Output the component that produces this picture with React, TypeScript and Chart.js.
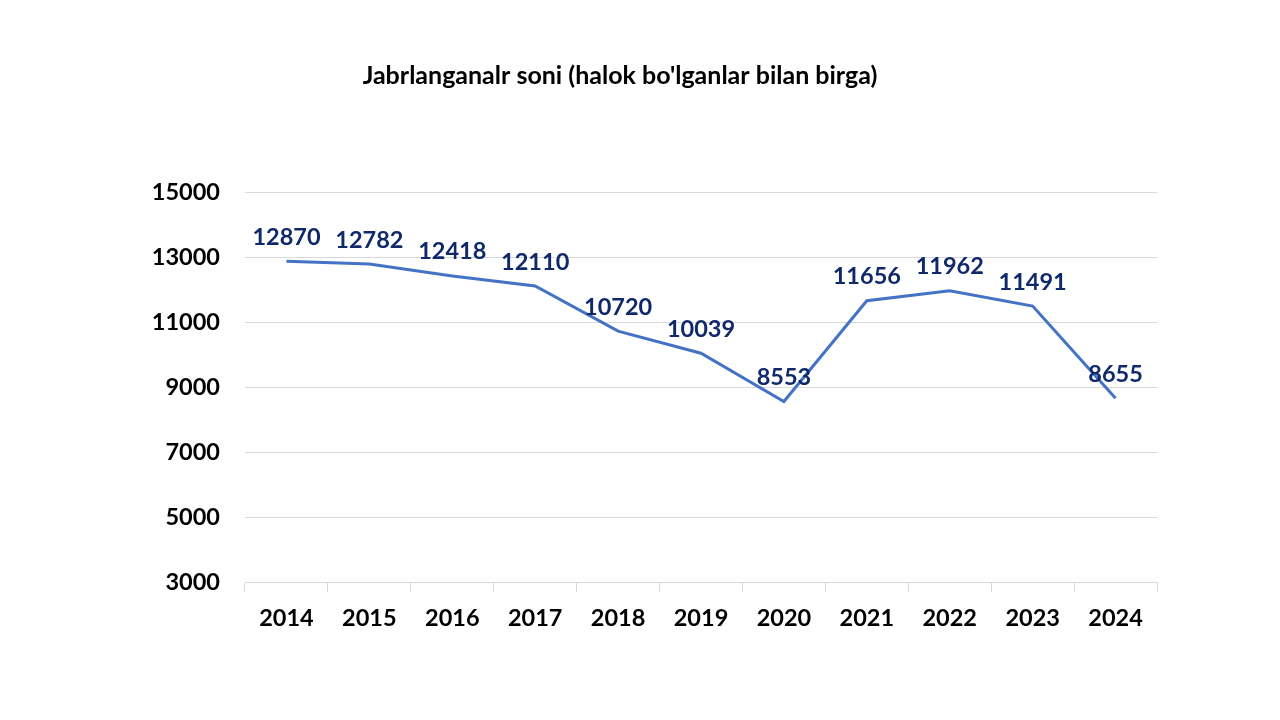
import React, { useEffect, useRef } from "react";
import { Chart, registerables } from "chart.js";

Chart.register(...registerables);

const title = "Jabrlanganalr soni (halok bo'lganlar bilan birga)";
const years = ["2014", "2015", "2016", "2017", "2018", "2019", "2020", "2021", "2022", "2023", "2024"];
const victims = [12870, 12782, 12418, 12110, 10720, 10039, 8553, 11656, 11962, 11491, 8655];
const yMin = 3000;
const yMax = 15000;
const yStep = 2000;

const FONT = "Lato, 'Open Sans', sans-serif";

const labelPlugin = {
  id: "valueLabels",
  afterDatasetsDraw(chart: any) {
    const ctx = chart.ctx;
    const meta = chart.getDatasetMeta(0);
    ctx.save();
    ctx.font = `bold 23.5px ${FONT}`;
    ctx.fillStyle = "#10296a";
    ctx.textAlign = "center";
    ctx.textBaseline = "middle";
    meta.data.forEach((pt: any, i: number) => {
      ctx.fillText(String(victims[i]), pt.x, pt.y - 24);
    });
    ctx.restore();
  },
};

const titlePlugin = {
  id: "customTitle",
  afterDraw(chart: any) {
    const ctx = chart.ctx;
    ctx.save();
    ctx.font = `bold 25px ${FONT}`;
    ctx.fillStyle = "#000000";
    ctx.textAlign = "center";
    ctx.textBaseline = "middle";
    ctx.fillText(title, 620, 76);
    ctx.restore();
  },
};

export default function App() {
  const ref = useRef<HTMLCanvasElement>(null);
  useEffect(() => {
    const chart = new Chart(ref.current!, {
      type: "line",
      data: {
        labels: years,
        datasets: [
          {
            data: victims,
            borderColor: "#4472C4",
            borderWidth: 3,
            pointRadius: 0,
            tension: 0,
            fill: false,
          },
        ],
      },
      options: {
        animation: false,
        responsive: false,
        layout: { padding: { left: 0, right: 123, top: 192, bottom: 0 } },
        plugins: { legend: { display: false }, title: { display: false }, tooltip: { enabled: false } },
        scales: {
          x: {
            offset: true,
            grid: { offset: true, drawOnChartArea: false, drawTicks: true, tickLength: 10, color: "#d9d9d9", lineWidth: 1 },
            border: { display: true, color: "#d9d9d9", width: 1 },
            ticks: { color: "#000", font: { family: FONT, size: 23.5, weight: "bold" }, padding: 12, maxRotation: 0 },
            afterFit(scale: any) {
              scale.height = 138;
            },
          },
          y: {
            min: yMin,
            max: yMax,
            ticks: {
              stepSize: yStep,
              color: "#000",
              font: { family: FONT, size: 23.5, weight: "bold" },
              padding: 25,
              callback: (v: any) => String(v),
            },
            grid: { color: "#d9d9d9", drawTicks: false, lineWidth: 1 },
            border: { display: false },
            afterFit(scale: any) {
              scale.width = 245;
            },
          },
        },
      },
      plugins: [labelPlugin, titlePlugin],
    });
    return () => chart.destroy();
  }, []);
  return (
    <div style={{ position: "fixed", left: 0, top: 0, width: 1280, height: 720, background: "#fff" }}>
      <canvas ref={ref} width={1280} height={720} style={{ width: 1280, height: 720 }} />
    </div>
  );
}
